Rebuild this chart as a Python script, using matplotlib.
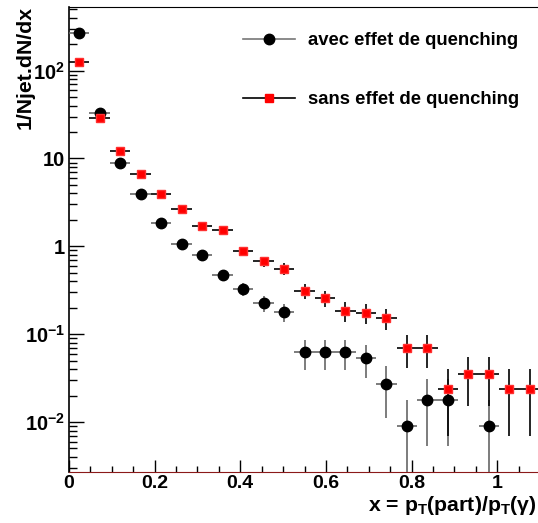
import numpy as np
from matplotlib import pyplot as plt
from matplotlib.lines import Line2D
from matplotlib.ticker import FixedLocator, FuncFormatter, MultipleLocator

plt.rcParams['font.family'] = ['Liberation Sans', 'DejaVu Sans']
plt.rcParams['font.weight'] = 'bold'
plt.rcParams['mathtext.fontset'] = 'custom'
plt.rcParams['mathtext.rm'] = 'Liberation Sans:bold'
plt.rcParams['mathtext.bf'] = 'Liberation Sans:bold'
plt.rcParams['mathtext.it'] = 'Liberation Sans:bold'

# 23 bins between 0 and 1.1
nbins = 23
xmax = 1.1
edges = np.linspace(0, xmax, nbins + 1)
centers = 0.5 * (edges[1:] + edges[:-1])
halfw = 0.5 * (edges[1] - edges[0])

# avec effet de quenching (black circles), bin index -> value
q_bins = [0, 1, 2, 3, 4, 5, 6, 7, 8, 9, 10, 11, 12, 13, 14, 15, 16, 17, 18, 20]
q_val = [265, 33, 8.8, 3.9, 1.83, 1.05, 0.79, 0.47, 0.33, 0.225, 0.178,
         0.063, 0.063, 0.063, 0.054, 0.027, 0.009, 0.018, 0.018, 0.009]
q_err = [1.5, 0.55, 0.28, 0.19, 0.13, 0.097, 0.084, 0.065, 0.055, 0.045, 0.040,
         0.024, 0.024, 0.024, 0.022, 0.016, 0.009, 0.0127, 0.0127, 0.009]

# sans effet de quenching (red squares)
nq_bins = list(range(23))
nq_val = [124, 28.7, 12.3, 6.6, 3.93, 2.68, 1.69, 1.55, 0.89, 0.675, 0.558,
          0.314, 0.259, 0.186, 0.175, 0.153, 0.070, 0.070, 0.0235, 0.0354,
          0.0354, 0.0235, 0.0235]
nq_err = [1.2, 0.58, 0.38, 0.28, 0.21, 0.18, 0.14, 0.134, 0.102, 0.089, 0.081,
          0.061, 0.055, 0.047, 0.045, 0.042, 0.029, 0.029, 0.0166, 0.020,
          0.020, 0.0166, 0.0166]

fig = plt.figure(figsize=(5.38, 5.23), dpi=100)
ax = fig.add_axes([69 / 538, 1 - 472 / 523, 471 / 538, 465 / 523])

# clip lower edges of error bars that would go to zero on log scale
def lower(v, e):
    v = np.array(v); e = np.array(e)
    return np.where(v - e <= 0, v - 1e-6, e)

xq = centers[q_bins]
ax.errorbar(xq, q_val, xerr=halfw, yerr=[lower(q_val, q_err), q_err],
            fmt='o', color='black', ecolor='#666666', elinewidth=1.2,
            markersize=7.5, capsize=0, zorder=3)
xn = centers[nq_bins]
ax.errorbar(xn, nq_val, xerr=halfw, yerr=[lower(nq_val, nq_err), nq_err],
            fmt='s', color='#ff0000', mec='#ff3030', ecolor='black',
            elinewidth=1.2, markersize=6.3, capsize=0, zorder=4)

ax.set_yscale('log')
ax.set_xlim(0, xmax)
ax.set_ylim(2.7e-3, 5.3e2)

def yfmt(v, pos):
    e = int(round(np.log10(v)))
    if e == 0:
        return '1'
    if e == 1:
        return '10'
    return r'$\mathbf{10^{%d}}$' % e

ax.yaxis.set_major_locator(FixedLocator([1e-2, 1e-1, 1, 10, 100]))
ax.yaxis.set_major_formatter(FuncFormatter(yfmt))
ax.xaxis.set_major_locator(MultipleLocator(0.2))
ax.xaxis.set_minor_locator(MultipleLocator(0.05))
ax.xaxis.set_major_formatter(FuncFormatter(lambda v, p: '0' if v == 0 else ('1' if abs(v - 1) < 1e-9 else '%g' % v)))

ax.tick_params(axis='y', which='major', direction='in', length=11, width=1, labelsize=14.5, pad=3)
ax.tick_params(axis='y', which='minor', direction='in', length=5.5, width=1)
ax.tick_params(axis='x', which='major', direction='in', length=9, width=1, labelsize=14, pad=2)
ax.tick_params(axis='x', which='minor', direction='in', length=4.5, width=1)
for lab in ax.get_xticklabels() + ax.get_yticklabels():
    lab.set_fontweight('bold')

ax.spines['right'].set_visible(False)
ax.spines['bottom'].set_color('#8b1a1a')
ax.spines['left'].set_linewidth(1.2)

fig.text(0.047, 0.988, '1/Njet.dN/dx', rotation=90, ha='center', va='top',
         fontsize=15.3, fontweight='bold')
fig.text(0.998, 1 - 511 / 523, r'x = p$_\mathbf{T}$(part)/p$_\mathbf{T}$(γ)',
         ha='right', va='baseline', fontsize=15.3, fontweight='bold')

h1 = Line2D([], [], color='#777777', lw=1.2, marker='o', mfc='black', mec='black', markersize=7.5)
h2 = Line2D([], [], color='black', lw=1.2, marker='s', mfc='#ff0000', mec='#ff0000', markersize=6.3)
ax.legend([h1, h2], ['avec effet de quenching', 'sans effet de quenching'],
          loc='upper left', bbox_to_anchor=(243 / 538, 1 - 32 / 523),
          bbox_transform=fig.transFigure, frameon=False,
          handlelength=2.8, handletextpad=0.7, labelspacing=2.3,
          borderaxespad=0, borderpad=0, prop={'weight': 'bold', 'size': 13.3})

plt.savefig('out.png', dpi=100)
